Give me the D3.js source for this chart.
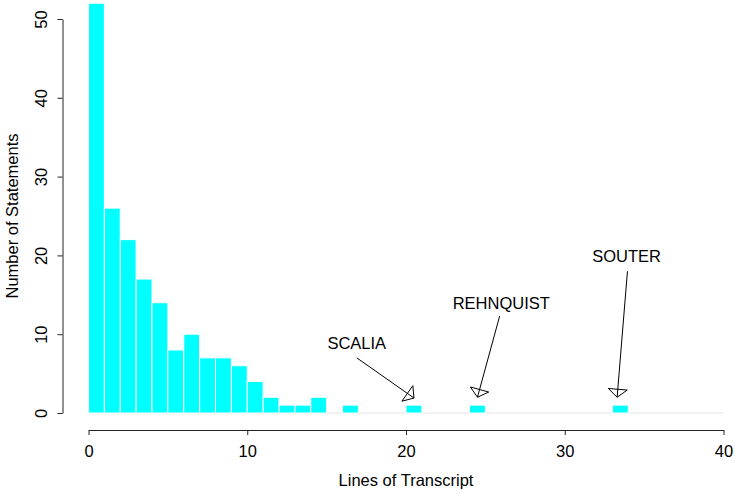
<!DOCTYPE html>
<meta charset="utf-8">
<head>
<script src="https://cdn.jsdelivr.net/npm/d3@7"></script>
<style>
	body { margin: 0; background: #fff; }
	text { font-family: "Liberation Sans", Arial, sans-serif; fill: #000; }
</style>
</head>
<body>
<div id="svg-container"></div>
<script>

////////////////////////////////////
// DATA
////////////////////////////////////

// histogram counts, one bin per line of transcript: [0,1), [1,2), ...
const binCounts = [52, 26, 22, 17, 14, 8, 10, 7, 7, 6, 4, 2, 1, 1, 2, 0, 1, 0, 0, 0,
	1, 0, 0, 0, 1, 0, 0, 0, 0, 0, 0, 0, 0, 1]
const binWidth = 1

const xTicks = [0, 10, 20, 30, 40]
const yTicks = [0, 10, 20, 30, 40, 50]

// labels + arrows, in data units
const noteNames = ['SCALIA', 'REHNQUIST', 'SOUTER']
const noteLabelAt = [[16.9, 8.9], [26.0, 14.0], [33.9, 19.9]]
const noteArrowFrom = [[16.9, 7.0], [25.9, 12.3], [33.95, 18.0]]
const noteArrowTo = [[20.5, 1.9], [24.5, 2.0], [33.3, 2.0]]

const xTitle = 'Lines of Transcript'
const yTitle = 'Number of Statements'

////////////////////////////////////
// SETUP
////////////////////////////////////

const width = 735,
	height = 494,
	fontSize = '16.5px'

const svg = d3.select('#svg-container').append('svg')
	.attr('width', width)
	.attr('height', height)

const xScale = d3.scaleLinear()
	.domain([0, 40])
	.range([88.5, 723.5])

const yScale = d3.scaleLinear()
	.domain([0, 50])
	.range([413, 19])

const bins = binCounts.map((c, i) => ({x0: i * binWidth, x1: (i + 1) * binWidth, count: c}))

////////////////////////////////////
// BARS
////////////////////////////////////

svg.append('line')
	.attr('x1', xScale(0))
	.attr('x2', xScale(40))
	.attr('y1', yScale(0))
	.attr('y2', yScale(0))
	.attr('stroke', '#e3e3e3')
	.attr('stroke-width', 1.2)

svg.append('g').selectAll('rect')
	.data(bins.filter(d => d.count > 0))
	.enter().append('rect')
	.attr('x', d => xScale(d.x0))
	.attr('width', d => xScale(d.x1) - xScale(d.x0))
	.attr('y', d => yScale(d.count))
	.attr('height', d => yScale(0) - yScale(d.count))
	.attr('fill', '#00ffff')
	.attr('stroke', '#fff')
	.attr('stroke-width', 1)

////////////////////////////////////
// AXES
////////////////////////////////////

const xAxis = svg.append('g')
	.attr('transform', 'translate(0,430)')
	.call(d3.axisBottom(xScale).tickValues(xTicks).tickSize(5).tickPadding(10).tickSizeOuter(0))

xAxis.selectAll('text')
	.style('font-size', fontSize)
	.style('font-family', '"Liberation Sans", Arial, sans-serif')

const yAxis = svg.append('g')
	.attr('transform', 'translate(62.5,0)')
	.call(d3.axisLeft(yScale).tickValues(yTicks).tickSize(5).tickSizeOuter(0))

yAxis.selectAll('text')
	.attr('x', null)
	.attr('dy', null)
	.attr('transform', d => `translate(-22,0) rotate(-90)`)
	.attr('text-anchor', 'middle')
	.attr('dominant-baseline', 'central')
	.style('font-size', fontSize)
	.style('font-family', '"Liberation Sans", Arial, sans-serif')

svg.selectAll('.domain, .tick line')
	.attr('stroke', '#222')

svg.append('text')
	.attr('x', (xScale(0) + xScale(40)) / 2)
	.attr('y', 486)
	.attr('text-anchor', 'middle')
	.style('font-size', fontSize)
	.text(xTitle)

svg.append('text')
	.attr('transform', `translate(18,${(yScale(0) + yScale(50)) / 2}) rotate(-90)`)
	.attr('text-anchor', 'middle')
	.style('font-size', fontSize)
	.text(yTitle)

////////////////////////////////////
// ANNOTATIONS
////////////////////////////////////

const notes = noteNames.map((n, i) => ({
	name: n,
	label: noteLabelAt[i],
	from: noteArrowFrom[i],
	to: noteArrowTo[i]
}))

const noteG = svg.append('g').selectAll('g')
	.data(notes)
	.enter().append('g')

noteG.append('text')
	.attr('x', d => xScale(d.label[0]))
	.attr('y', d => yScale(d.label[1]))
	.attr('text-anchor', 'middle')
	.attr('dominant-baseline', 'central')
	.style('font-size', fontSize)
	.text(d => d.name)

noteG.append('line')
	.attr('x1', d => xScale(d.from[0]))
	.attr('y1', d => yScale(d.from[1]))
	.attr('x2', d => xScale(d.to[0]))
	.attr('y2', d => yScale(d.to[1]))
	.attr('stroke', '#000')
	.attr('stroke-width', 1)

// open triangle head at the arrow tip
const headLen = 8,
	headHalf = 9.5

noteG.append('path')
	.attr('d', d => {
		const x1 = xScale(d.from[0]), y1 = yScale(d.from[1])
		const x2 = xScale(d.to[0]), y2 = yScale(d.to[1])
		const len = Math.hypot(x2 - x1, y2 - y1)
		const ux = (x2 - x1) / len, uy = (y2 - y1) / len
		const bx = x2 - ux * headLen, by = y2 - uy * headLen
		const px = -uy * headHalf, py = ux * headHalf
		return `M${x2},${y2}L${bx + px},${by + py}L${bx - px},${by - py}Z`
	})
	.attr('fill', 'none')
	.attr('stroke', '#000')
	.attr('stroke-width', 1)

</script>
</body>
